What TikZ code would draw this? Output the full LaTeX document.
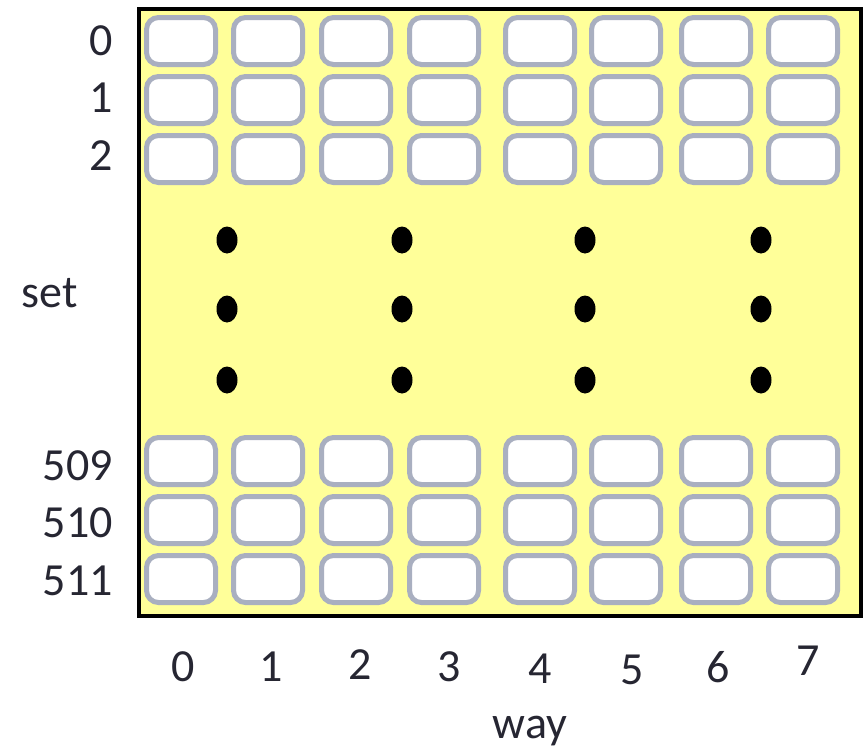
\documentclass[tikz,border=0pt]{standalone}
\usepackage{fontspec}
\setmainfont{Carlito}
\usetikzlibrary{shapes.geometric}
\definecolor{cachefill}{RGB}{255,255,153}
\definecolor{lineframe}{RGB}{169,175,192}
\definecolor{labeltext}{RGB}{38,38,50}
\tikzset{
  lineslot/.style={draw=lineframe, line width=5pt, fill=white, rounded corners=12pt,
    minimum width=69pt, minimum height=47pt, inner sep=0pt},
  gapdot/.style={ellipse, fill=black, minimum width=21pt, minimum height=27pt, inner sep=0pt},
  axislabel/.style={text=labeltext, font=\fontsize{46}{54}\selectfont, inner sep=0pt}
}
\begin{document}
\begin{tikzpicture}[x=1pt,y=-1pt]
  \useasboundingbox (0,0) rectangle (866,755);
  % cache array background
  \node[draw=black, line width=4pt, fill=cachefill, minimum width=722pt, minimum height=607pt,
        inner sep=0pt] (cache) at (499.5,312.5) {};
  % cache lines: rows (sets) by columns (ways)
  \foreach \c/\x in {0/181,1/268,2/356,3/444,4/540,5/626,6/716,7/803}{
    \foreach \r/\y in {0/41,1/100,2/159,509/461,510/520,511/579}{
      \node[lineslot] (b-\r-\c) at (\x,\y) {};
    }
  }
  % elided sets
  \foreach \i/\x in {0/227,1/402,2/585,3/761}{
    \foreach \j/\y in {0/240,1/309,2/380}{
      \node[gapdot] (d-\i-\j) at (\x,\y) {};
    }
  }
  % set indices
  \foreach \r/\y in {0/41,1/98,2/156,509/466,510/523,511/581}{
    \node[axislabel, anchor=east] (set-\r) at (113,\y) {\r};
  }
  \node[axislabel] (setname) at (50,293) {set};
  % way indices
  \foreach \c/\x/\y in {0/183/667,1/271/667,2/360/665,3/449/667,4/540/669,5/632/670,6/718/667,7/808/661}{
    \node[axislabel] (way-\c) at (\x,\y) {\c};
  }
  \node[axislabel] (wayname) at (530,731) {way};
\end{tikzpicture}
\end{document}
